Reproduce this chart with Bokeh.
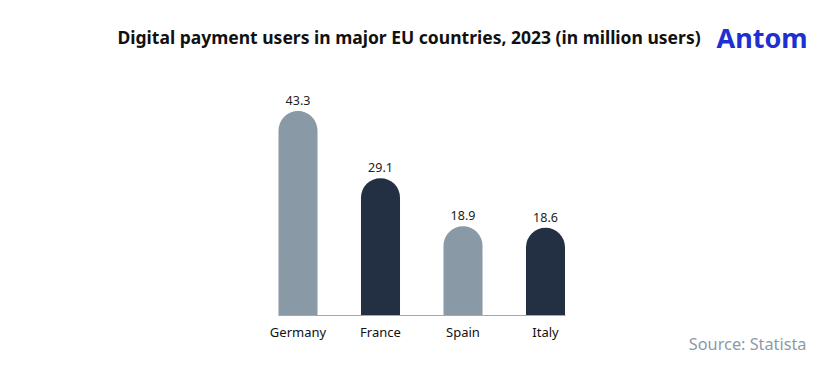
from bokeh.plotting import figure
from bokeh.models import Range1d, FixedTicker, Label, ColumnDataSource, LinearAxis
from bokeh.core.properties import value
from bokeh.embed import file_html
from bokeh.resources import INLINE

countries = ["Germany", "France", "Spain", "Italy"]
users = [43.3, 29.1, 18.9, 18.6]
value_labels = ["43.3", "29.1", "18.9", "18.6"]
bar_colors = ["#8a99a6", "#232f42", "#8a99a6", "#232f42"]
title_text = "Digital payment users in major EU countries, 2023 (in million users)"
source_text = "Source: Statista"
logo_text = "Antom"

FONT = "Noto Sans"
W, H = 828, 368
BAR_W = 0.473
xs = list(range(len(countries)))
src = ColumnDataSource(dict(x=xs, top=users, color=bar_colors, lbl=value_labels))

px_x = 82.5     # pixels per category
px_y = 4.72     # pixels per million users
x0_px, base_px = 297.5, 315.0
x_start = -x0_px / px_x
y_start = -(H - base_px) / px_y

p = figure(width=W, height=H, output_backend="svg", toolbar_location=None,
           x_range=Range1d(x_start, x_start + W / px_x),
           y_range=Range1d(y_start, y_start + H / px_y),
           x_axis_location=None, y_axis_location=None, min_border=0)
p.outline_line_color = None
p.grid.visible = False
p.background_fill_color = "white"
p.border_fill_color = "white"

p.vbar(x="x", top="top", width=BAR_W, bottom=0, fill_color="color", line_color=None,
       source=src, border_radius=(20, 20, 0, 0))
p.text(x="x", y="top", text="lbl", source=src, text_align="center", text_baseline="bottom",
       y_offset=-6, text_font=value(FONT), text_font_size="12.5px", text_color="#222222")

ax = LinearAxis(fixed_location=0, bounds=(xs[0] - BAR_W / 2, xs[-1] + BAR_W / 2))
ax.ticker = FixedTicker(ticks=xs)
ax.major_label_overrides = {i: c for i, c in zip(xs, countries)}
ax.major_tick_line_color = None
ax.minor_tick_line_color = None
ax.major_tick_out = 0
ax.major_tick_in = 0
ax.axis_line_color = "#a8a8a8"
ax.axis_line_width = 1
ax.major_label_standoff = 7
ax.major_label_text_font = FONT
ax.major_label_text_font_size = "13px"
ax.major_label_text_color = "#111111"
p.add_layout(ax, "below")

p.add_layout(Label(x=117, y=H - 36, x_units="screen", y_units="screen", text=title_text,
                   text_font=FONT, text_font_size="17.5px", text_font_style="bold",
                   text_color="#111111", text_baseline="middle", text_align="left"))
p.add_layout(Label(x=716, y=H - 37, x_units="screen", y_units="screen", text=logo_text,
                   text_font=FONT, text_font_size="27px", text_font_style="bold",
                   text_color="#2030d0", text_baseline="middle", text_align="left"))
p.add_layout(Label(x=806, y=H - 343, x_units="screen", y_units="screen", text=source_text,
                   text_font=FONT, text_font_size="16.3px",
                   text_color="#8d9aa5", text_baseline="middle", text_align="right"))

open("out.html", "w").write(file_html(p, INLINE))
